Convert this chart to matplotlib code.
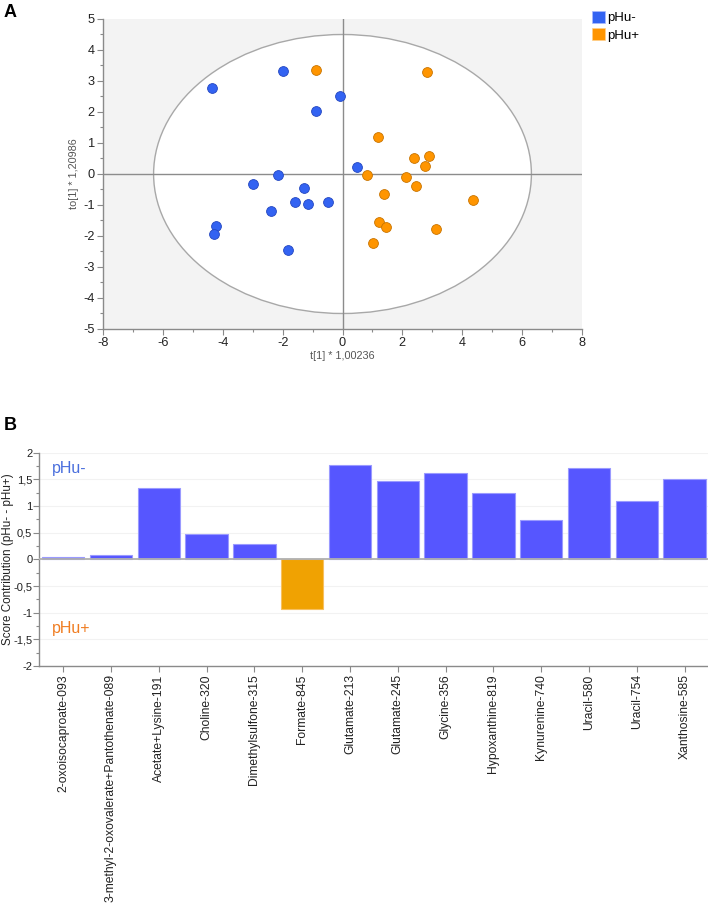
import matplotlib
matplotlib.use("Agg")
import matplotlib.pyplot as plt
from matplotlib.patches import Ellipse, Patch
from matplotlib.ticker import MultipleLocator, FuncFormatter

# ---------------- data ----------------
# Panel A: OPLS-DA score plot
blue_x = [-4.36, -2.00, -0.08, -0.90, 0.47, -2.15, -3.00, -1.30, -1.59, -1.15, -0.48, -2.39, -4.23, -4.29, -1.83]
blue_y = [2.78, 3.33, 2.50, 2.03, 0.22, -0.04, -0.32, -0.46, -0.90, -0.97, -0.90, -1.19, -1.67, -1.93, -2.46]
orange_x = [-0.90, 2.82, 1.18, 2.38, 2.89, 2.76, 0.82, 2.12, 2.47, 1.40, 4.35, 1.23, 1.46, 3.11, 1.01]
orange_y = [3.37, 3.30, 1.20, 0.51, 0.57, 0.25, -0.04, -0.11, -0.40, -0.65, -0.84, -1.54, -1.70, -1.76, -2.22]
ellipse_a = 6.31   # Hotelling T2 ellipse semi-axes
ellipse_b = 4.50
group_labels = ["pHu-", "pHu+"]

# Panel B: score contributions
categories = ["2-oxoisocaproate-093", "3-methyl-2-oxovalerate+Pantothenate-089",
              "Acetate+Lysine-191", "Choline-320", "Dimethylsulfone-315", "Formate-845",
              "Glutamate-213", "Glutamate-245", "Glycine-356", "Hypoxanthine-819",
              "Kynurenine-740", "Uracil-580", "Uracil-754", "Xanthosine-585"]
contrib = [0.04, 0.08, 1.33, 0.47, 0.29, -0.93, 1.76, 1.47, 1.61, 1.24, 0.73, 1.71, 1.09, 1.51]

# ---------------- style ----------------
plt.rcParams['font.family'] = ['Liberation Sans', 'DejaVu Sans']
plt.rcParams['axes.unicode_minus'] = False
W, H = 708, 905
fig = plt.figure(figsize=(W / 100, H / 100), dpi=100)

def px_axes(left, top, right, bottom):
    return fig.add_axes([left / W, 1 - bottom / H, (right - left) / W, (bottom - top) / H])

BLUE = '#3363f2'
BLUE_E = '#2447c0'
ORANGE = '#ff9500'
ORANGE_E = '#c87400'
SPINE = '#8a8a8a'

def comma(v, pos):
    s = ('%g' % round(v, 4))
    return s.replace('.', ',')

# ---------------- Panel A ----------------
axA = px_axes(103, 19, 582, 329)
axA.set_facecolor('#f3f3f3')
axA.set_xlim(-8, 8)
axA.set_ylim(-5, 5)
axA.add_patch(Ellipse((0, 0), 2 * ellipse_a, 2 * ellipse_b, facecolor='white',
                      edgecolor='#a8a8a8', linewidth=1.0, zorder=1))
axA.axhline(0, color='#8c8c8c', linewidth=1.0, zorder=2)
axA.axvline(0, color='#8c8c8c', linewidth=1.0, zorder=2)
axA.scatter(blue_x, blue_y, s=50, color=BLUE, edgecolors=BLUE_E, linewidths=0.6, zorder=3)
axA.scatter(orange_x, orange_y, s=50, color=ORANGE, edgecolors=ORANGE_E, linewidths=0.6, zorder=3)
for sp in ['top', 'right']:
    axA.spines[sp].set_visible(False)
for sp in ['left', 'bottom']:
    axA.spines[sp].set_color(SPINE)
    axA.spines[sp].set_linewidth(1.0)
axA.xaxis.set_major_locator(MultipleLocator(2))
axA.xaxis.set_minor_locator(MultipleLocator(1))
axA.yaxis.set_major_locator(MultipleLocator(1))
axA.yaxis.set_minor_locator(MultipleLocator(0.5))
axA.tick_params(which='both', color=SPINE, labelsize=9.2, labelcolor='#222222')
axA.tick_params(which='major', length=4, width=0.8, pad=2)
axA.tick_params(which='minor', length=2.5, width=0.8)
axA.set_xlabel('t[1] * 1,00236', fontsize=7.8, color='#555555', labelpad=1)
axA.set_ylabel('to[1] * 1,20986', fontsize=7.8, color='#555555', labelpad=3)

fig.legend(handles=[Patch(facecolor=BLUE, edgecolor='#aabbff', linewidth=0.5),
                    Patch(facecolor=ORANGE, edgecolor='#ffd08a', linewidth=0.5)],
           labels=group_labels, loc='upper left', bbox_to_anchor=(589 / W, 1 - 8 / H),
           frameon=False, fontsize=9.5, handlelength=1.05, handleheight=1.1,
           handletextpad=0.1, labelspacing=0.25, borderaxespad=0, borderpad=0.2)

fig.text(4 / W, 1 - 4 / H, 'A', fontsize=13, fontweight='bold', va='top', ha='left')

# ---------------- Panel B ----------------
axB = px_axes(39.3, 452.7, 708.5, 666)
xs = list(range(len(categories)))
bar_colors = ['#5656ff' if v >= 0 else '#f0a202' for v in contrib]
edge_colors = ['#9a9aff' if v >= 0 else '#f7c060' for v in contrib]
axB.bar(xs, contrib, width=0.885, color=bar_colors, edgecolor=edge_colors, linewidth=0.8, zorder=3)
axB.set_xlim(-0.5, len(categories) - 0.5)
axB.set_ylim(-2, 2)
axB.yaxis.set_major_locator(MultipleLocator(0.5))
axB.yaxis.set_minor_locator(MultipleLocator(0.25))
axB.yaxis.set_major_formatter(FuncFormatter(comma))
axB.grid(axis='y', which='major', color='#f2f2f2', linewidth=0.8, zorder=0)
axB.axhline(0, color='#b0b0b0', linewidth=1.3, zorder=4)
for sp in ['top', 'right']:
    axB.spines[sp].set_visible(False)
for sp in ['left', 'bottom']:
    axB.spines[sp].set_color(SPINE)
    axB.spines[sp].set_linewidth(1.0)
axB.set_xticks(xs)
axB.set_xticklabels(categories, rotation=90, fontsize=8.7, color='#222222')
axB.tick_params(axis='y', which='both', color=SPINE, labelsize=8.0, labelcolor='#222222')
axB.tick_params(axis='x', color=SPINE, labelsize=8.7, labelcolor='#222222', pad=2)
axB.tick_params(axis='y', which='major', length=4, width=0.8, pad=1)
axB.tick_params(axis='x', which='major', length=4, width=0.8)
axB.tick_params(which='minor', length=2.5, width=0.8)
axB.set_ylabel('Score Contribution (pHu- - pHu+)', fontsize=8.4, color='#222222')
axB.yaxis.set_label_coords(-0.0372, 0.5)
axB.text(-0.24, 1.71, group_labels[0], color='#4a6fdd', fontsize=11.5, va='center', ha='left')
axB.text(-0.24, -1.29, group_labels[1], color='#f07d22', fontsize=11.5, va='center', ha='left')

fig.text(4 / W, 1 - 417 / H, 'B', fontsize=13, fontweight='bold', va='top', ha='left')

fig.savefig('out.png', dpi=100)
